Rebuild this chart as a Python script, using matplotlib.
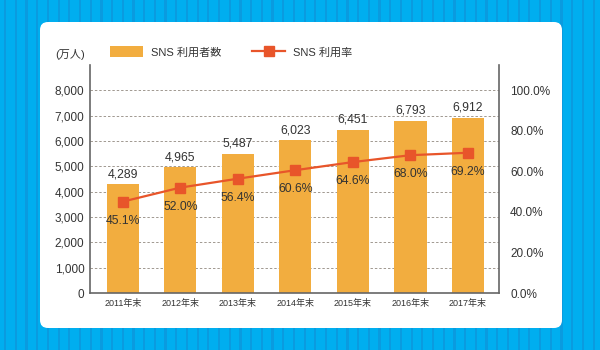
import matplotlib
matplotlib.use('Agg')
import matplotlib.pyplot as plt
from matplotlib.patches import Rectangle, FancyBboxPatch
from matplotlib.transforms import IdentityTransform
from matplotlib.ticker import FuncFormatter

plt.rcParams['font.family'] = ['Liberation Sans', 'Noto Sans CJK JP', 'DejaVu Sans']

BAR = '#F2AD3F'
LINE = '#E8552A'
TXT = '#333333'
BLUE = '#00AEEF'
BLUE_DARK = '#0A9BDF'

years = ['2011年末', '2012年末', '2013年末', '2014年末', '2015年末', '2016年末', '2017年末']
users = [4289, 4965, 5487, 6023, 6451, 6793, 6912]
rate = [45.1, 52.0, 56.4, 60.6, 64.6, 68.0, 69.2]
left_ticks = [0, 1000, 2000, 3000, 4000, 5000, 6000, 7000, 8000]
right_ticks = [0, 20, 40, 60, 80, 100]

W, H = 600, 350
fig = plt.figure(figsize=(6, 3.5), dpi=100)
fig.patch.set_facecolor(BLUE)

# striped blue background + white rounded panel (pixel coords)
px = IdentityTransform()
x = 4
while x < W:
    fig.patches.append(Rectangle((x, 0), 2.2, H, transform=px, color=BLUE_DARK, lw=0, zorder=-3))
    x += 10.7
fig.patches.append(FancyBboxPatch((40, 22), 522, 306, boxstyle='round,pad=0,rounding_size=8',
                                  transform=px, facecolor='white', edgecolor='none', zorder=-2))

ax = fig.add_axes([90 / W, 1 - 293 / H, 409 / W, 228 / H])
ax.set_facecolor('none')
xs = list(range(len(years)))

bars = ax.bar(xs, users, width=0.56, color=BAR, zorder=2, label='SNS 利用者数')
for xi, v in zip(xs, users):
    ax.annotate(f'{v:,}', (xi, v), xytext=(0, 3), textcoords='offset points',
                ha='center', va='bottom', fontsize=8.8, color=TXT)

ax.set_xlim(-0.57, len(years) - 1 + 0.54)
ax.set_ylim(0, 9000)
ax.set_yticks(left_ticks)
ax.yaxis.set_major_formatter(FuncFormatter(lambda v, p: f'{int(v):,}'))
ax.set_xticks(xs)
ax.set_xticklabels(years)
ax.tick_params(axis='y', length=0, pad=4, labelsize=8.5, colors=TXT)
ax.tick_params(axis='x', length=0, pad=4, labelsize=6.5, colors=TXT)
ax.yaxis.grid(True, color='#a09890', linestyle=(0, (2.5, 2)), lw=0.7, zorder=1)
ax.set_axisbelow(True)
for s in ['top', 'right']:
    ax.spines[s].set_visible(False)
for s in ['left', 'bottom']:
    ax.spines[s].set_color('#666666')
    ax.spines[s].set_linewidth(1.2)

ax2 = ax.twinx()
ax2.set_ylim(0, 112.5)
ax2.set_yticks(right_ticks)
ax2.yaxis.set_major_formatter(FuncFormatter(lambda v, p: f'{v:.1f}%'))
ax2.tick_params(axis='y', length=0, pad=8, labelsize=8.5, colors=TXT)
for s in ['top', 'left', 'bottom']:
    ax2.spines[s].set_visible(False)
ax2.spines['right'].set_color('#666666')
ax2.spines['right'].set_linewidth(1.2)

line, = ax2.plot(xs, rate, color=LINE, lw=1.6, marker='s', markersize=6.5,
                 markerfacecolor=LINE, markeredgecolor=LINE, zorder=5, label='SNS 利用率')
for xi, r in zip(xs, rate):
    ax2.annotate(f'{r:.1f}%', (xi, r), xytext=(0, -9.5), textcoords='offset points',
                 ha='center', va='top', fontsize=8.8, color=TXT)

fig.text(55 / W, 1 - 55 / H, '(万人)', fontsize=8, color=TXT, va='center', ha='left')

fig.legend([bars, line], ['SNS 利用者数', 'SNS 利用率'], ncol=2, loc='center left',
           bbox_to_anchor=(104 / W, 1 - 52 / H), frameon=False, fontsize=8,
           handlelength=3.0, handleheight=1.1, handletextpad=0.7, columnspacing=2.8,
           borderpad=0, labelcolor=TXT)

fig.savefig('out.png', dpi=100, facecolor=fig.get_facecolor())
